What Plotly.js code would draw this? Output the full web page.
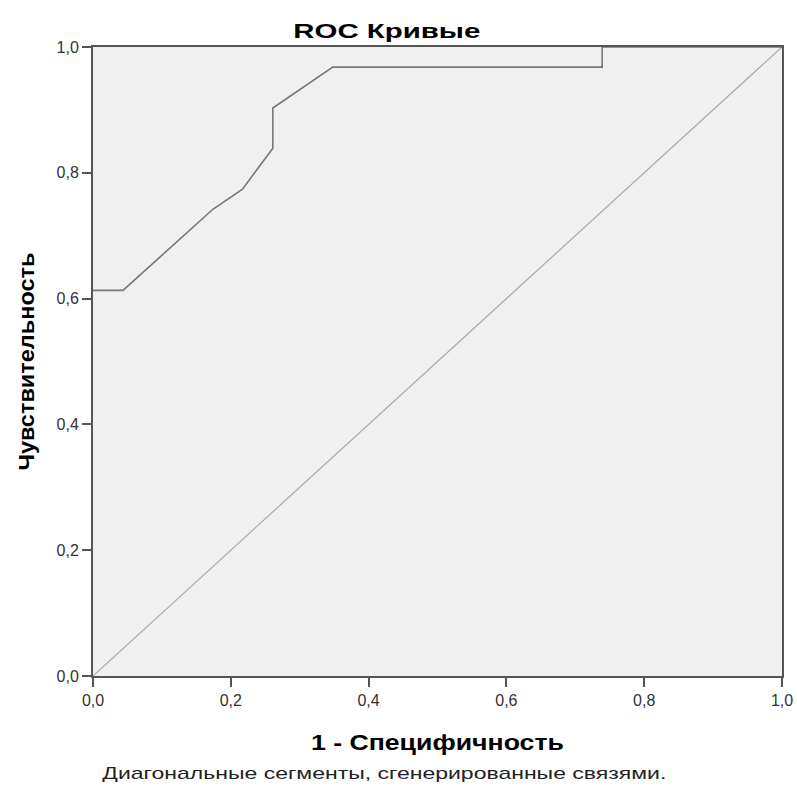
<!DOCTYPE html>
<html>
<head>
<meta charset="utf-8">
<script src="https://cdn.plot.ly/plotly-3.0.1.min.js"></script>
<style>html,body{margin:0;padding:0;background:#fff;}</style>
</head>
<body>
<div id="chart" style="width:797px;height:800px;"></div>
<script>
// ROC curve points (1 - specificity, sensitivity)
const rocX = [0.0, 0.0435, 0.174, 0.217, 0.261, 0.261, 0.348, 0.739, 0.739, 1.0];
const rocY = [0.613, 0.613, 0.742, 0.774, 0.839, 0.903, 0.968, 0.968, 1.0, 1.0];
const refX = [0, 1];
const refY = [0, 1];
const tickVals = [0, 0.2, 0.4, 0.6, 0.8, 1.0];

const titleText = 'ROC Кривые';
const xTitleText = '1 - Специфичность';
const yTitleText = 'Чувствительность';
const noteText = 'Диагональные сегменты, сгенерированные связями.';

const traces = [
  {x: refX, y: refY, mode: 'lines', line: {color: '#aaaaaa', width: 1.2}, hoverinfo: 'skip', showlegend: false},
  {x: rocX, y: rocY, mode: 'lines', line: {color: '#777777', width: 1.6}, showlegend: false}
];

const font = 'Liberation Sans, Arial, sans-serif';
const layout = {
  width: 797, height: 800,
  margin: {l: 93, r: 15, t: 47, b: 124},
  paper_bgcolor: '#ffffff',
  plot_bgcolor: '#f0f0f0',
  separators: ', ',
  font: {family: font, size: 13, color: '#222'},
  xaxis: {
    range: [0, 1], tickvals: tickVals, tickformat: '.1f',
    showgrid: false, zeroline: false,
    showline: true, linecolor: '#555', linewidth: 2, mirror: true,
    ticks: 'outside', ticklen: 9, tickwidth: 2, tickcolor: '#555',
    tickfont: {family: font, size: 16, color: '#333'}
  },
  yaxis: {
    range: [0, 1], tickvals: tickVals, tickformat: '.1f',
    showgrid: false, zeroline: false,
    showline: true, linecolor: '#555', linewidth: 2, mirror: true,
    ticks: 'outside', ticklen: 9, tickwidth: 2, tickcolor: '#555',
    tickfont: {family: font, size: 16, color: '#333'}
  },
  annotations: [
    {text: '<b>' + titleText + '</b>', xref: 'paper', yref: 'paper', x: 0.4267, y: 1.027,
     xanchor: 'center', yanchor: 'middle', showarrow: false, font: {family: font, size: 21, color: '#000'}},
    {text: '<b>' + xTitleText + '</b>', xref: 'paper', yref: 'paper', x: 0.5007, y: -0.105,
     xanchor: 'center', yanchor: 'middle', showarrow: false, font: {family: font, size: 22, color: '#000'}},
    {text: '<b>' + yTitleText + '</b>', xref: 'paper', yref: 'paper', x: -0.097, y: 0.5, textangle: -90,
     xanchor: 'center', yanchor: 'middle', showarrow: false, font: {family: font, size: 22, color: '#000'}},
    {text: noteText, xref: 'paper', yref: 'paper', x: 0.4238, y: -0.155,
     xanchor: 'center', yanchor: 'middle', showarrow: false, font: {family: font, size: 17, color: '#222'}}
  ]
};

const lengths = [187, 253, 218, 564];
Plotly.newPlot('chart', traces, layout, {displayModeBar: false, staticPlot: true}).then(function () {
  const texts = document.querySelectorAll('.annotation-text');
  texts.forEach(function (t, i) {
    if (lengths[i]) {
      t.setAttribute('textLength', lengths[i]);
      t.setAttribute('lengthAdjust', 'spacingAndGlyphs');
    }
  });
});
</script>
</body>
</html>
